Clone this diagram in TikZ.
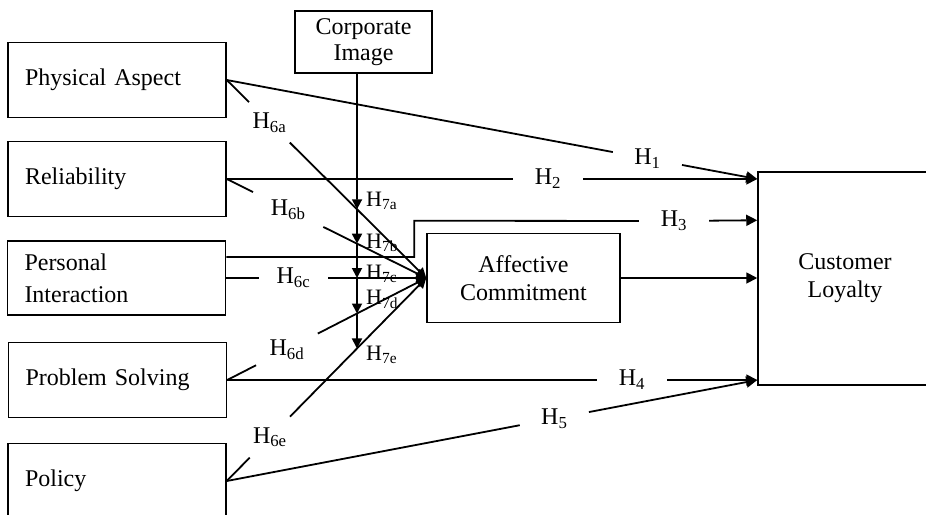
\documentclass[tikz,border=0pt]{standalone}
\usepackage{fontspec}
\setmainfont{Liberation Serif}
\usetikzlibrary{arrows.meta,calc}
\begin{document}
\begin{tikzpicture}[x=1pt,y=-1pt,
  box/.style={draw, line width=1.5pt, inner sep=0pt, font=\fontsize{24}{27}\selectfont},
  lbox/.style={box, align=left, text width=184pt, inner xsep=17pt, minimum height=75pt},
  cbox/.style={box, align=center},
  conn/.style={line width=1.8pt},
  arr/.style={conn, -{Triangle[length=11pt,width=11pt]}},
  harr/.style={conn, -{Triangle[length=10pt,width=10pt]}},
  gap/.style={circle, inner sep=0pt, minimum size=#1, font=\fontsize{24}{27}\selectfont},
  gap/.default=70pt,
  sml/.style={inner sep=0pt, anchor=west, font=\fontsize{22}{24}\selectfont}
]
\useasboundingbox (0,0) rectangle (926,514);
\clip (0,0) rectangle (926,514);

% boxes
\node[lbox] (pa)  at (117,80)  {Physical Aspect};
\node[lbox] (rel) at (117,179) {Reliability};
\node[lbox, minimum height=74pt] (pi) at (116.5,278) {Personal\\[5pt]Interaction};
\node[lbox] (ps)  at (117.5,380) {Problem Solving};
\node[lbox] (pol) at (117,481) {Policy};
\node[cbox, minimum width=137pt, minimum height=62pt] (ci) at (363.5,42) {Corporate\\[-1pt]Image};
\node[cbox, minimum width=193pt, minimum height=89pt] (ac) at (523.5,278) {Affective\\[1pt]Commitment};
\node[cbox, minimum width=174pt, minimum height=213pt] (cl) at (845,278.5) {Customer\\[1pt]Loyalty};

% end points on Customer Loyalty
\coordinate (clA) at (cl.west |- rel.east);
\coordinate (clB) at ($(cl.north west)+(0,49)$);
\coordinate (clD) at (cl.west |- ps.east);

% label gaps
\node[gap] (h1) at ($(pa.east)!0.793!(clA)$) {H\textsubscript{1}};
\node[gap] (h2) at (548,179) {H\textsubscript{2}};
\node[gap] (h3) at (674,221) {H\textsubscript{3}};
\node[gap] (h4) at (632,380) {H\textsubscript{4}};
\node[gap] (h5) at ($(pol.east)!0.6175!(clD)$) {H\textsubscript{5}};
\node[gap=57pt] (h6a) at ($(pa.east)!0.214!(ac.west)$) {H\textsubscript{6a}};
\node[gap=78pt] (h6b) at ($(rel.east)!0.308!(ac.west)$) {H\textsubscript{6b}};
\node[gap=69pt] (h6c) at (293.5,278) {H\textsubscript{6c}};
\node[gap=69pt] (h6d) at ($(ps.east)!0.30!(ac.west)$) {H\textsubscript{6d}};
\node[gap=57pt] (h6e) at ($(pol.east)!0.216!(ac.west)$) {H\textsubscript{6e}};

% direct paths to Customer Loyalty
\draw[arr] (pa.east) -- (h1) -- (clA);
\draw[arr] (rel.east) -- (h2) -- (clA);
\draw[arr] ($(pi.east)+(0,-21)$) -| ($(ac.north west)+(-12,-12)$) -- (h3) -- (clB);
\draw[arr] (ac.east) -- (ac.east -| cl.west);
\draw[arr] (ps.east) -- (h4) -- (clD);
\draw[arr] (pol.east) -- (h5) -- (clD);

% paths to Affective Commitment
\draw[harr] (pa.east) -- (h6a) -- (ac.west);
\draw[harr] (rel.east) -- (h6b) -- (ac.west);
\draw[harr] (pi.east) -- (h6c) -- (ac.west);
\draw[harr] (ps.east) -- (h6d) -- (ac.west);
\draw[harr] (pol.east) -- (h6e) -- (ac.west);

% moderation by Corporate Image
\coordinate (ct) at ($(ci.south)+(-6.5,0)$);
\coordinate (ct2) at ($(ct)+(0,100)$);
\coordinate (i1) at (intersection of ct--ct2 and pa.east--ac.west);
\coordinate (i2) at (intersection of ct--ct2 and rel.east--ac.west);
\coordinate (i3) at (intersection of ct--ct2 and pi.east--ac.west);
\coordinate (i4) at (intersection of ct--ct2 and ps.east--ac.west);
\coordinate (i5) at (intersection of ct--ct2 and pol.east--ac.west);
\draw[harr] (ct) -- (i1);
\draw[harr] (i1) -- (i2);
\draw[harr] (i2) -- (i3);
\draw[harr] (i3) -- (i4);
\draw[harr] (i4) -- (i5);

\node[sml] (h7a) at ($(i1)+(9,-8)$)  {H\textsubscript{7a}};
\node[sml] (h7b) at ($(i2)+(9,-1)$)  {H\textsubscript{7b}};
\node[sml] (h7c) at ($(i3)+(9,-4)$)  {H\textsubscript{7c}};
\node[sml] (h7d) at ($(i4)+(9,-14)$) {H\textsubscript{7d}};
\node[sml] (h7e) at ($(i5)+(9,6)$)   {H\textsubscript{7e}};
\end{tikzpicture}
\end{document}
